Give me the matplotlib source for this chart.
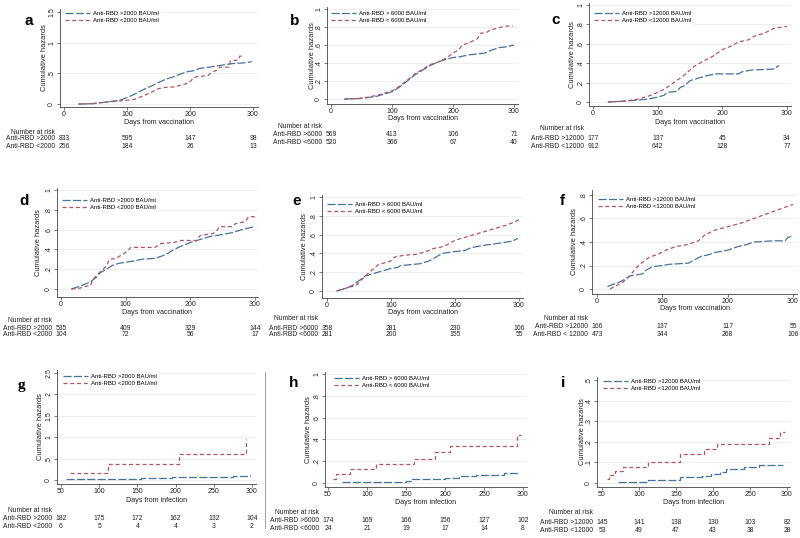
import matplotlib
matplotlib.use('Agg')
import matplotlib.pyplot as plt
from matplotlib.lines import Line2D
from matplotlib.transforms import blended_transform_factory, offset_copy

plt.rcParams['font.family'] = ['Liberation Sans', 'DejaVu Sans']

W, H = 800, 538
BLUE = '#4a7298'
RED = '#b25563'

# ---------------------------------------------------------
# DATA
# ---------------------------------------------------------
# a: vaccination, 2000 BAU/ml cut-off
a_hi_days = [23, 45, 57, 70, 88, 99, 110, 125, 140, 152, 163, 173, 185, 197, 205, 215, 230, 242, 255, 268, 285, 298]
a_hi_haz = [0, 0.005, 0.02, 0.035, 0.06, 0.1, 0.15, 0.23, 0.3, 0.36, 0.41, 0.44, 0.49, 0.53, 0.54, 0.58, 0.6, 0.62, 0.64, 0.66, 0.67, 0.69]
a_lo_days = [23, 45, 57, 75, 88, 100, 110, 118, 125, 140, 150, 160, 175, 190, 198, 205, 212, 228, 235, 242, 247, 262, 264, 277, 279, 284]
a_lo_haz = [0, 0.005, 0.02, 0.04, 0.05, 0.06, 0.07, 0.1, 0.13, 0.2, 0.25, 0.27, 0.28, 0.32, 0.34, 0.42, 0.45, 0.46, 0.52, 0.55, 0.6, 0.6, 0.7, 0.72, 0.78, 0.78]

# b: vaccination, 6000 BAU/ml cut-off
b_hi_days = [22, 45, 60, 75, 90, 100, 112, 125, 138, 150, 162, 175, 188, 200, 212, 225, 240, 252, 262, 275, 288, 300]
b_hi_haz = [0, 0.005, 0.015, 0.03, 0.06, 0.08, 0.13, 0.2, 0.27, 0.32, 0.37, 0.41, 0.44, 0.46, 0.47, 0.49, 0.5, 0.51, 0.54, 0.57, 0.58, 0.6]
b_lo_days = [22, 45, 60, 75, 90, 100, 112, 125, 138, 150, 162, 175, 190, 200, 210, 215, 225, 240, 245, 255, 262, 275, 285, 298]
b_lo_haz = [0, 0.005, 0.02, 0.04, 0.07, 0.09, 0.14, 0.21, 0.28, 0.33, 0.38, 0.41, 0.46, 0.51, 0.55, 0.6, 0.62, 0.67, 0.73, 0.74, 0.77, 0.79, 0.81, 0.81]

# c: vaccination, 12000 BAU/ml cut-off
c_hi_days = [23, 50, 70, 85, 100, 110, 115, 130, 135, 142, 150, 165, 175, 190, 225, 230, 245, 282, 285, 288]
c_hi_haz = [0, 0.01, 0.02, 0.03, 0.05, 0.07, 0.1, 0.11, 0.15, 0.17, 0.22, 0.25, 0.27, 0.29, 0.29, 0.31, 0.33, 0.34, 0.37, 0.37]
c_lo_days = [23, 50, 70, 90, 100, 110, 125, 140, 155, 170, 185, 200, 215, 225, 240, 250, 265, 280, 290, 300]
c_lo_haz = [0, 0.01, 0.03, 0.07, 0.1, 0.13, 0.2, 0.27, 0.36, 0.42, 0.47, 0.54, 0.58, 0.62, 0.64, 0.68, 0.71, 0.76, 0.77, 0.78]

# d
d_hi_days = [16, 30, 45, 55, 60, 70, 80, 90, 100, 110, 125, 145, 155, 165, 175, 185, 200, 215, 230, 250, 265, 280, 300]
d_hi_haz = [0, 0.03, 0.07, 0.12, 0.16, 0.2, 0.24, 0.26, 0.27, 0.28, 0.3, 0.31, 0.33, 0.36, 0.4, 0.43, 0.47, 0.5, 0.53, 0.55, 0.57, 0.6, 0.63]
d_lo_days = [16, 30, 40, 45, 50, 60, 65, 70, 75, 85, 95, 100, 108, 145, 155, 175, 185, 210, 215, 235, 240, 245, 265, 270, 285, 290, 300]
d_lo_haz = [0, 0.01, 0.03, 0.03, 0.1, 0.17, 0.2, 0.23, 0.3, 0.31, 0.35, 0.37, 0.42, 0.42, 0.46, 0.47, 0.49, 0.49, 0.54, 0.56, 0.58, 0.63, 0.63, 0.66, 0.68, 0.73, 0.73]

# e
e_hi_days = [15, 30, 40, 50, 60, 70, 80, 90, 100, 110, 115, 130, 145, 160, 170, 180, 200, 215, 225, 240, 260, 280, 290, 298]
e_hi_haz = [0, 0.03, 0.06, 0.11, 0.16, 0.18, 0.2, 0.22, 0.24, 0.25, 0.27, 0.28, 0.29, 0.32, 0.36, 0.4, 0.42, 0.43, 0.46, 0.48, 0.5, 0.52, 0.53, 0.56]
e_lo_days = [15, 30, 45, 50, 60, 70, 80, 90, 100, 105, 120, 140, 155, 165, 180, 190, 200, 215, 225, 240, 255, 265, 280, 295, 300]
e_lo_haz = [0, 0.03, 0.06, 0.09, 0.16, 0.22, 0.28, 0.3, 0.32, 0.36, 0.38, 0.39, 0.42, 0.45, 0.47, 0.5, 0.54, 0.57, 0.59, 0.62, 0.65, 0.67, 0.7, 0.74, 0.76]

# f
f_hi_days = [16, 25, 35, 45, 50, 60, 70, 75, 85, 100, 110, 140, 150, 160, 170, 180, 200, 215, 230, 240, 270, 288, 292, 300]
f_hi_haz = [0.02, 0.04, 0.06, 0.09, 0.11, 0.12, 0.13, 0.16, 0.19, 0.2, 0.21, 0.22, 0.25, 0.28, 0.29, 0.31, 0.33, 0.36, 0.38, 0.4, 0.41, 0.41, 0.44, 0.45]
f_lo_days = [20, 30, 40, 50, 60, 70, 80, 95, 105, 120, 140, 155, 165, 180, 200, 220, 240, 260, 280, 300]
f_lo_haz = [0, 0.03, 0.06, 0.11, 0.18, 0.23, 0.27, 0.3, 0.33, 0.36, 0.38, 0.41, 0.46, 0.5, 0.53, 0.56, 0.6, 0.64, 0.68, 0.72]

# g: infection, step curves
g_hi_days = [57, 100, 155, 180, 195, 210, 250, 275, 297]
g_hi_haz = [0.02, 0.03, 0.04, 0.05, 0.06, 0.07, 0.08, 0.1, 0.11]
g_lo_days = [62, 112, 205, 292]
g_lo_haz = [0.17, 0.37, 0.61, 0.95]

# h
h_hi_days = [68, 112, 150, 158, 185, 200, 218, 240, 260, 275, 295]
h_hi_haz = [0.005, 0.01, 0.02, 0.035, 0.04, 0.05, 0.065, 0.07, 0.075, 0.09, 0.09]
h_lo_days = [57, 60, 78, 112, 160, 187, 206, 292, 297]
h_lo_haz = [0.04, 0.08, 0.13, 0.17, 0.22, 0.28, 0.34, 0.44, 0.44]

# i
i_hi_days = [72, 112, 155, 185, 197, 210, 218, 242, 262, 295]
i_hi_haz = [0.007, 0.015, 0.03, 0.035, 0.045, 0.055, 0.068, 0.077, 0.088, 0.088]
i_lo_days = [57, 60, 68, 78, 112, 156, 188, 205, 276, 290, 297]
i_lo_haz = [0.02, 0.04, 0.06, 0.08, 0.1, 0.14, 0.163, 0.19, 0.22, 0.25, 0.25]

# legends
leg_2000 = ['Anti-RBD >2000 BAU/ml', 'Anti-RBD <2000 BAU/ml']
leg_6000 = ['Anti-RBD > 6000 BAU/ml', 'Anti-RBD < 6000 BAU/ml']
leg_12000 = ['Anti-RBD >12000 BAU/ml', 'Anti-RBD <12000 BAU/ml']

# number at risk
risk_vacc_days = [0, 100, 200, 300]
risk_inf_days = [50, 100, 150, 200, 250, 300]
a_risk_rows = ['Anti-RBD >2000', 'Anti-RBD <2000']
a_risk = [[833, 595, 147, 98], [256, 184, 26, 13]]
b_risk_rows = ['Anti-RBD >6000', 'Anti-RBD <6000']
b_risk = [[569, 413, 106, 71], [520, 366, 67, 40]]
c_risk_rows = ['Anti-RBD >12000', 'Anti-RBD <12000']
c_risk = [[177, 137, 45, 34], [912, 642, 128, 77]]
d_risk_rows = ['Anti-RBD >2000', 'Anti-RBD <2000']
d_risk = [[535, 409, 329, 144], [104, 72, 56, 17]]
e_risk_rows = ['Anti-RBD >6000', 'Anti-RBD <6000']
e_risk = [[358, 281, 230, 106], [281, 200, 155, 55]]
f_risk_rows = ['Anti-RBD >12000', 'Anti-RBD < 12000']
f_risk = [[166, 137, 117, 55], [473, 344, 268, 106]]
g_risk_rows = ['Anti-RBD >2000', 'Anti-RBD <2000']
g_risk = [[182, 175, 172, 162, 132, 104], [6, 5, 4, 4, 3, 2]]
h_risk_rows = ['Anti-RBD >6000', 'Anti-RBD <6000']
h_risk = [[174, 169, 166, 156, 127, 102], [24, 21, 19, 17, 14, 8]]
i_risk_rows = ['Anti-RBD >12000', 'Anti-RBD <12000']
i_risk = [[145, 141, 138, 130, 103, 82], [53, 49, 47, 43, 38, 28]]

vacc_ticks = [0, 100, 200, 300]
inf_ticks = [50, 100, 150, 200, 250, 300]

panels = [
    dict(letter='a', hi=(a_hi_days, a_hi_haz), lo=(a_lo_days, a_lo_haz), leg=leg_2000,
         rows=a_risk_rows, risk=a_risk, rdays=risk_vacc_days, xt=vacc_ticks,
         yt=[0, 0.5, 1, 1.5], xlab='Days from vaccination', step=False,
         box=(60, 9, 258, 107), xmap=(0, 300, 64, 253), ymap=(0, 1.5, 104, 12),
         legxy=(65, 15), risky=(132, 139, 147), xlaby=123, ylabx=45, letxy=(29, 21)),
    dict(letter='b', hi=(b_hi_days, b_hi_haz), lo=(b_lo_days, b_lo_haz), leg=leg_6000,
         rows=b_risk_rows, risk=b_risk, rdays=risk_vacc_days, xt=vacc_ticks,
         yt=[0, 0.2, 0.4, 0.6, 0.8, 1], xlab='Days from vaccination', step=False,
         box=(327, 7, 518, 104), xmap=(0, 300, 331, 514), ymap=(0, 1, 99, 9),
         legxy=(331, 15), risky=(127, 135, 142), xlaby=118, ylabx=312, letxy=(295, 21)),
    dict(letter='c', hi=(c_hi_days, c_hi_haz), lo=(c_lo_days, c_lo_haz), leg=leg_12000,
         rows=c_risk_rows, risk=c_risk, rdays=risk_vacc_days, xt=vacc_ticks,
         yt=[0, 0.2, 0.4, 0.6, 0.8, 1], xlab='Days from vaccination', step=False,
         box=(589, 3, 791, 106), xmap=(0, 300, 593, 787), ymap=(0, 1, 102, 5),
         legxy=(594, 15), risky=(129, 138, 146), xlaby=122, ylabx=572, letxy=(556, 20)),
    dict(letter='d', hi=(d_hi_days, d_hi_haz), lo=(d_lo_days, d_lo_haz), leg=leg_2000,
         rows=d_risk_rows, risk=d_risk, rdays=risk_vacc_days, xt=vacc_ticks,
         yt=[0, 0.2, 0.4, 0.6, 0.8, 1], xlab='Days from vaccination', step=False,
         box=(57, 188, 258, 297), xmap=(0, 300, 61, 255), ymap=(0, 1, 289, 190),
         legxy=(62, 202), risky=(320, 328, 335), xlaby=312.5, ylabx=39, letxy=(24, 201)),
    dict(letter='e', hi=(e_hi_days, e_hi_haz), lo=(e_lo_days, e_lo_haz), leg=leg_6000,
         rows=e_risk_rows, risk=e_risk, rdays=risk_vacc_days, xt=vacc_ticks,
         yt=[0, 0.2, 0.4, 0.6, 0.8, 1], xlab='Days from vaccination', step=False,
         box=(322, 195, 523, 298), xmap=(0, 300, 327, 519), ymap=(0, 1, 291, 197),
         legxy=(327, 206), risky=(319, 328, 335), xlaby=312, ylabx=304, letxy=(297, 201)),
    dict(letter='f', hi=(f_hi_days, f_hi_haz), lo=(f_lo_days, f_lo_haz), leg=leg_12000,
         rows=f_risk_rows, risk=f_risk, rdays=risk_vacc_days, xt=vacc_ticks,
         yt=[0, 0.2, 0.4, 0.6, 0.8], xlab='Days from vaccination', step=False,
         box=(592, 190, 797, 294), xmap=(0, 300, 597, 793), ymap=(0, 0.8, 289, 195),
         legxy=(598, 201), risky=(319, 327, 334), xlaby=309, ylabx=574, letxy=(562, 201)),
    dict(letter='g', hi=(g_hi_days, g_hi_haz), lo=(g_lo_days, g_lo_haz), leg=leg_2000,
         rows=g_risk_rows, risk=g_risk, rdays=risk_inf_days, xt=inf_ticks,
         yt=[0, 0.5, 1, 1.5, 2, 2.5], xlab='Days from infection', step=True,
         box=(57, 370, 256, 484), xmap=(50, 300, 61, 252), ymap=(0, 2.5, 480, 373),
         legxy=(63, 378), risky=(510, 518, 526), xlaby=501, ylabx=41, letxy=(21, 385)),
    dict(letter='h', hi=(h_hi_days, h_hi_haz), lo=(h_lo_days, h_lo_haz), leg=leg_6000,
         rows=h_risk_rows, risk=h_risk, rdays=risk_inf_days, xt=inf_ticks,
         yt=[0, 0.2, 0.4, 0.6, 0.8, 1], xlab='Days from infection', step=True,
         box=(325, 372, 527, 487), xmap=(50, 300, 328, 523), ymap=(0, 1, 483, 374),
         legxy=(334, 380), risky=(513, 521, 528), xlaby=503, ylabx=308, letxy=(294, 383)),
    dict(letter='i', hi=(i_hi_days, i_hi_haz), lo=(i_lo_days, i_lo_haz), leg=leg_12000,
         rows=i_risk_rows, risk=i_risk, rdays=risk_inf_days, xt=inf_ticks,
         yt=[0, 0.1, 0.2, 0.3, 0.4, 0.5], xlab='Days from infection', step=True,
         box=(597, 377, 790, 487), xmap=(50, 300, 602, 787), ymap=(0, 0.5, 483, 380),
         legxy=(603, 383), risky=(513, 522, 530), xlaby=503, ylabx=582, letxy=(563, 383)),
]


def stata_fmt(v):
    s = f"{v:g}"
    if s.startswith('0.'):
        s = s[1:]
    return s


def lims(v0, v1, p0, p1, e0, e1):
    # data v0->pixel p0, v1->pixel p1, return data limits at pixel edges e0, e1
    k = (p1 - p0) / (v1 - v0)
    return v0 + (e0 - p0) / k, v0 + (e1 - p0) / k


HI_DASH = (6.5, 1.8)
LO_DASH = (3.2, 2.2)

fig = plt.figure(figsize=(W / 100, H / 100), dpi=100)

for p in panels:
    l, t, r, b = p['box']
    ax = fig.add_axes([l / W, 1 - b / H, (r - l) / W, (b - t) / H])
    ax.set_xlim(*lims(*p['xmap'], l, r))
    ax.set_ylim(*lims(*p['ymap'], b, t))

    ds = 'steps-post' if p['step'] else 'default'
    ax.plot(*p['hi'], color=BLUE, lw=0.9, dashes=HI_DASH, drawstyle=ds)
    ax.plot(*p['lo'], color=RED, lw=0.9, dashes=LO_DASH, drawstyle=ds)

    for s in ('top', 'right'):
        ax.spines[s].set_visible(False)
    for s in ('left', 'bottom'):
        ax.spines[s].set_color('#444444')
        ax.spines[s].set_linewidth(0.6)

    ax.set_xticks(p['xt'])
    ax.set_xticklabels([str(v) for v in p['xt']])
    ax.set_yticks(p['yt'])
    ax.set_yticklabels([stata_fmt(v) for v in p['yt']])
    ax.tick_params(length=2.0, width=0.5, color='#444444', labelsize=5.0, pad=0.8,
                   labelcolor='#222222')
    ax.tick_params(axis='y', labelrotation=90, pad=1.5)
    for lab in ax.get_yticklabels():
        lab.set_va('center')
    ax.grid(axis='y', color='#ebebeb', lw=0.6)
    ax.set_axisbelow(True)

    ax.set_xlabel(p['xlab'], fontsize=5.1, color='#222222')
    ax.xaxis.set_label_coords(0.5, (b - p['xlaby']) / (b - t))
    ax.xaxis.label.set_va('center')
    ax.set_ylabel('Cumulative hazards', fontsize=5.4, color='#222222')
    ax.yaxis.set_label_coords((p['ylabx'] - l) / (r - l), 0.5)
    ax.yaxis.label.set_va('center')

    # legend
    lx, ly = p['legxy']
    handles = [Line2D([], [], color=BLUE, lw=0.9, dashes=HI_DASH),
               Line2D([], [], color=RED, lw=0.9, dashes=LO_DASH)]
    leg = ax.legend(handles, p['leg'], loc='upper left',
                    bbox_to_anchor=((lx - 2) / W, 1 - (ly - 5.5) / H),
                    bbox_transform=fig.transFigure, fontsize=4.3, frameon=True,
                    facecolor='white', edgecolor='none', fancybox=False,
                    borderpad=0.3, borderaxespad=0, handlelength=4.2,
                    handletextpad=0.5, labelspacing=0.25)
    leg.get_frame().set_alpha(1)

    # number at risk table
    tr = blended_transform_factory(ax.transData, fig.transFigure)
    tr_lab = offset_copy(tr, fig=fig, x=-9, y=0, units='dots')
    y0, y1, y2 = p['risky']
    x_first = p['rdays'][0]
    ax.text(x_first, 1 - y0 / H, 'Number at risk', transform=tr_lab, ha='right',
            va='center', fontsize=4.9, color='#222222', clip_on=False)
    for row_lab, vals, yy in zip(p['rows'], p['risk'], (y1, y2)):
        ax.text(x_first, 1 - yy / H, row_lab, transform=tr_lab, ha='right',
                va='center', fontsize=4.9, color='#222222', clip_on=False)
        for d, v in zip(p['rdays'], vals):
            ax.text(d, 1 - yy / H, str(v), transform=tr, ha='center', va='center',
                    fontsize=4.9, color='#222222', clip_on=False)

    # panel letter
    fam = ['Liberation Serif'] if p['letter'] == 'g' else ['Liberation Sans']
    fig.text(p['letxy'][0] / W, 1 - p['letxy'][1] / H, p['letter'], family=fam,
             fontsize=11, fontweight='bold', ha='center', va='center', color='black')

# thin frame edge right of panel g
fig.add_artist(Line2D([265 / W, 265 / W], [1 - 372 / H, 1 - 528 / H],
                      transform=fig.transFigure, color='#777777', lw=0.5))

fig.savefig('out.png', dpi=100)
